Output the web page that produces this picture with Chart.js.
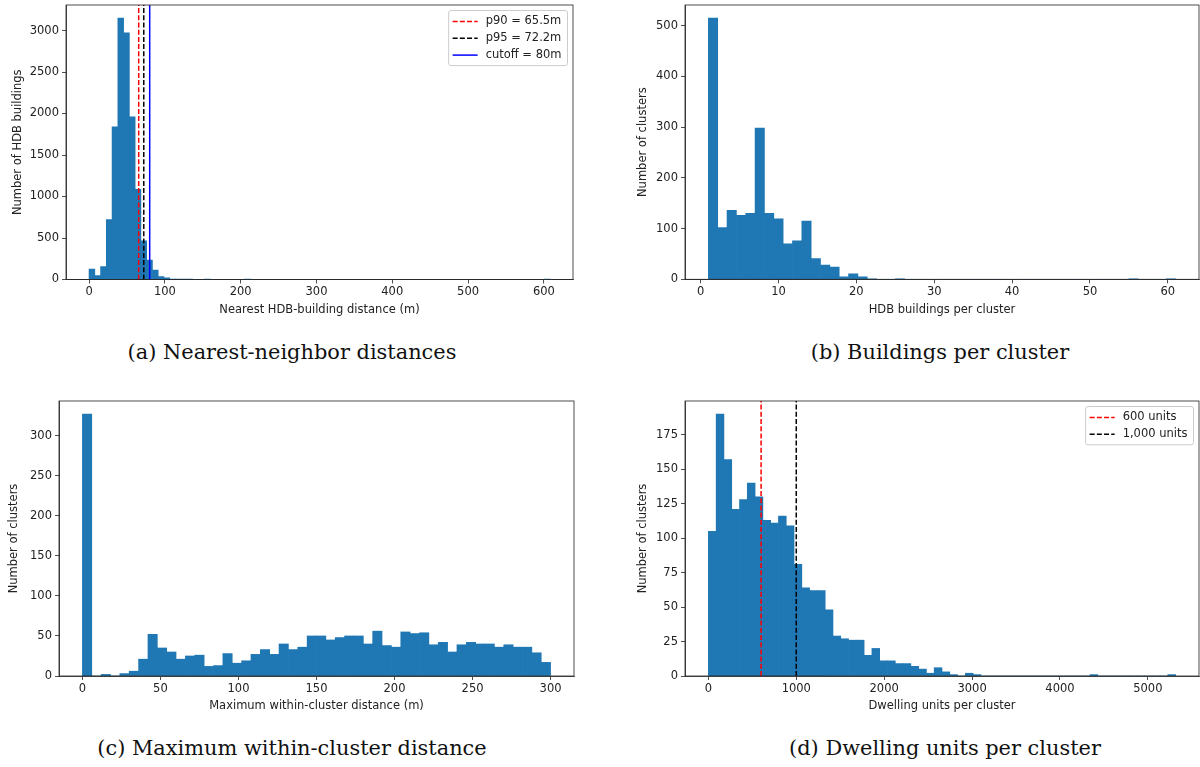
<!DOCTYPE html>
<html>
<head>
<meta charset="utf-8">
<script src="https://cdn.jsdelivr.net/npm/chart.js@4.4.1/dist/chart.umd.min.js"></script>
<style>
  body { margin: 0; background: #fff; width: 1200px; height: 767px; position: relative; overflow: hidden; }
  canvas { position: absolute; }
  .cap { position: absolute; font-family: "DejaVu Serif", serif; font-size: 20.9px; color: #111;
         white-space: nowrap; transform: translate(-50%, -50%); }
</style>
</head>
<body>
<canvas id="nn" width="590" height="320" style="left:0;top:0"></canvas>
<canvas id="bpc" width="580" height="320" style="left:620px;top:0"></canvas>
<canvas id="span" width="590" height="330" style="left:0;top:390px"></canvas>
<canvas id="units" width="580" height="330" style="left:620px;top:390px"></canvas>

<div class="cap" style="left:292px;top:352px">(a) Nearest-neighbor distances</div>
<div class="cap" style="left:940px;top:352px">(b) Buildings per cluster</div>
<div class="cap" style="left:292px;top:748px">(c) Maximum within-cluster distance</div>
<div class="cap" style="left:945px;top:748px">(d) Dwelling units per cluster</div>

<script>
// (a) nearest HDB-building distance, 80 bins of 7.6 m
const nnBinStart = 0;
const nnBinWidth = 7.6;
const nnCounts = [
  125, 48, 157, 721, 1840, 3150, 2972, 1961, 1087, 467,
  234, 113, 36, 20, 6, 3, 1, 1, 0, 0,
  1, 0, 0, 0, 0, 0, 0, 1, 0, 0,
  0, 0, 0, 0, 0, 0, 0, 0, 0, 0,
  0, 0, 0, 0, 0, 0, 0, 0, 0, 0,
  0, 0, 0, 0, 0, 0, 0, 0, 0, 0,
  0, 0, 0, 0, 0, 0, 0, 0, 0, 0,
  0, 0, 0, 0, 0, 0, 0, 0, 0, 1
];
const nnXTicks = [0, 100, 200, 300, 400, 500, 600];
const nnYTicks = [0, 500, 1000, 1500, 2000, 2500, 3000];
const nnMarkValues = [65.5, 72.2, 80];
const nnMarkLabels = ['p90 = 65.5m', 'p95 = 72.2m', 'cutoff = 80m'];

// (b) buildings per cluster, 50 bins of 1.2 starting at 1
const bpcBinStart = 1;
const bpcBinWidth = 1.2;
const bpcCounts = [
  515, 102, 136, 126, 130, 298, 130, 119, 70, 76,
  115, 41, 28, 24, 5, 11, 5, 1, 0, 0,
  1, 0, 0, 0, 0, 0, 0, 0, 0, 0,
  0, 0, 0, 0, 0, 0, 0, 0, 0, 0,
  0, 0, 0, 0, 0, 1, 0, 0, 0, 1
];
const bpcXTicks = [0, 10, 20, 30, 40, 50, 60];
const bpcYTicks = [0, 100, 200, 300, 400, 500];

// (c) maximum within-cluster distance, 50 bins of 6 m
const spanBinStart = 0;
const spanBinWidth = 6;
const spanCounts = [
  327, 0, 2, 0, 3, 6, 21, 52, 35, 30,
  21, 25, 26, 12, 13, 28, 16, 19, 27, 33,
  27, 40, 33, 36, 50, 50, 45, 48, 50, 50,
  40, 56, 38, 36, 55, 53, 54, 39, 42, 30,
  39, 42, 40, 40, 36, 39, 36, 36, 29, 17
];
const spanXTicks = [0, 50, 100, 150, 200, 250, 300];
const spanYTicks = [0, 50, 100, 150, 200, 250, 300];

// (d) dwelling units per cluster, 60 bins of 88.6 units
const unitsBinStart = 0;
const unitsBinWidth = 88.6;
const unitsCounts = [
  105, 190, 157, 121, 128, 140, 130, 113, 111, 116,
  109, 81, 64, 62, 62, 48, 29, 27, 26, 26,
  15, 20, 11, 11, 9, 9, 7, 5, 2, 6,
  3, 1, 0, 2, 1, 0, 0, 0, 0, 0,
  0, 0, 0, 0, 0, 0, 0, 0, 0, 1,
  0, 0, 0, 0, 0, 0, 0, 0, 0, 1
];
const unitsXTicks = [0, 1000, 2000, 3000, 4000, 5000];
const unitsYTicks = [0, 25, 50, 75, 100, 125, 150, 175];
const unitsMarkValues = [600, 1000];
const unitsMarkLabels = ['600 units', '1,000 units'];

const INK = '#222';
const BAR = '#1f77b4';
const FONT = { family: 'DejaVu Sans', size: 11.5 };

Chart.defaults.font.family = 'DejaVu Sans';

// bin centres for a linear x axis
function histPoints(counts, start, width) {
  return counts.map((c, i) => ({ x: start + width * (i + 0.5), y: c }));
}

// full box around the plot area, drawn over the bars
const framePlugin = {
  id: 'frame',
  afterDatasetsDraw(chart) {
    const { ctx, chartArea: a } = chart;
    ctx.save();
    ctx.strokeStyle = INK;
    ctx.lineWidth = 0.8;
    ctx.strokeRect(a.left, a.top, a.right - a.left, a.bottom - a.top);
    ctx.restore();
  }
};

// legend box in the upper right corner, one row per reference line
const boxLegend = {
  id: 'boxLegend',
  afterDraw(chart) {
    const items = chart.data.datasets.filter(d => d.type === 'line');
    if (!items.length) return;
    const { ctx, chartArea: a } = chart;
    ctx.save();
    ctx.font = '11.5px "DejaVu Sans"';
    const textW = Math.max(...items.map(d => ctx.measureText(d.label).width));
    const rowH = 16.8;
    const w = 4 + 25 + 8 + textW + 6;
    const h = 11 + rowH * (items.length - 1) + 10.5;
    const x = a.right - 5.5 - w;
    const y = a.top + 5.5;
    ctx.beginPath();
    if (ctx.roundRect) ctx.roundRect(x, y, w, h, 2.5); else ctx.rect(x, y, w, h);
    ctx.fillStyle = 'rgba(255,255,255,0.8)';
    ctx.fill();
    ctx.strokeStyle = '#cccccc';
    ctx.lineWidth = 1;
    ctx.stroke();
    items.forEach((d, i) => {
      const cy = y + 11 + i * rowH;
      ctx.beginPath();
      ctx.strokeStyle = d.borderColor;
      ctx.lineWidth = 1.5;
      ctx.setLineDash(d.borderDash || []);
      ctx.moveTo(x + 4, cy);
      ctx.lineTo(x + 29, cy);
      ctx.stroke();
      ctx.setLineDash([]);
      ctx.fillStyle = INK;
      ctx.textBaseline = 'middle';
      ctx.fillText(d.label, x + 37, cy);
    });
    ctx.restore();
  }
};

function drawHist(id, o) {
  const datasets = (o.marks || []).map(m => ({
    type: 'line',
    label: m.label,
    data: [{ x: m.x, y: 0 }, { x: m.x, y: o.yMax }],
    borderColor: m.color,
    borderWidth: 1.5,
    borderDash: m.dash,
    pointRadius: 0,
    order: 1
  }));
  datasets.push({
    type: 'bar',
    label: 'count',
    data: histPoints(o.counts, o.binStart, o.binWidth),
    backgroundColor: BAR,
    borderWidth: 0,
    barPercentage: 1,
    categoryPercentage: 1,
    grouped: false,
    order: 2
  });

  new Chart(document.getElementById(id).getContext('2d'), {
    type: 'bar',
    data: { datasets },
    options: {
      responsive: false,
      animation: false,
      events: [],
      layout: { padding: { left: 0, top: o.padTop, right: o.padRight, bottom: 0 } },
      plugins: { legend: { display: false }, tooltip: { enabled: false } },
      scales: {
        x: {
          type: 'linear',
          offset: false,
          min: o.xMin,
          max: o.xMax,
          afterBuildTicks: s => { s.ticks = o.xTicks.map(v => ({ value: v })); },
          afterFit: s => { s.height = o.xHeight; s.paddingLeft = 0; s.paddingRight = 0; },
          grid: { offset: false, drawOnChartArea: false, color: INK, lineWidth: 0.8, tickLength: 4 },
          border: { color: INK, width: 0.8 },
          ticks: { color: INK, font: FONT, padding: 2, maxRotation: 0, autoSkip: false, callback: v => String(v) },
          title: { display: true, text: o.xTitle, color: INK, font: FONT, padding: { top: 0, bottom: o.xTitlePad } }
        },
        y: {
          type: 'linear',
          min: 0,
          max: o.yMax,
          afterBuildTicks: s => { s.ticks = o.yTicks.map(v => ({ value: v })); },
          afterFit: s => { s.width = o.yWidth; s.paddingTop = 0; s.paddingBottom = 0; },
          grid: { drawOnChartArea: false, color: INK, lineWidth: 0.8, tickLength: 4 },
          border: { color: INK, width: 0.8 },
          ticks: { color: INK, font: FONT, padding: 3, autoSkip: false, callback: v => String(v) },
          title: { display: true, text: o.yTitle, color: INK, font: FONT, padding: { top: o.yTitlePad, bottom: 0 } }
        }
      }
    },
    plugins: [framePlugin, boxLegend]
  });
}

document.addEventListener('DOMContentLoaded', () => {
  drawHist('nn', {
    counts: nnCounts, binStart: nnBinStart, binWidth: nnBinWidth,
    xMin: -30.4, xMax: 638.4, xTicks: nnXTicks,
    yMax: 3307.5, yTicks: nnYTicks,
    xTitle: 'Nearest HDB-building distance (m)', yTitle: 'Number of HDB buildings',
    padTop: 5, padRight: 17, yWidth: 66, xHeight: 40.5, xTitlePad: 3.1, yTitlePad: 11.4,
    marks: [
      { x: nnMarkValues[0], label: nnMarkLabels[0], color: '#ff0000', dash: [5, 2.2] },
      { x: nnMarkValues[1], label: nnMarkLabels[1], color: '#000000', dash: [5, 2.2] },
      { x: nnMarkValues[2], label: nnMarkLabels[2], color: '#0000ff', dash: [] }
    ]
  });

  drawHist('bpc', {
    counts: bpcCounts, binStart: bpcBinStart, binWidth: bpcBinWidth,
    xMin: -2, xMax: 64, xTicks: bpcXTicks,
    yMax: 540.75, yTicks: bpcYTicks,
    xTitle: 'HDB buildings per cluster', yTitle: 'Number of clusters',
    padTop: 5, padRight: 1, yWidth: 65, xHeight: 40.7, xTitlePad: 3.1, yTitlePad: 16.1
  });

  drawHist('span', {
    counts: spanCounts, binStart: spanBinStart, binWidth: spanBinWidth,
    xMin: -15, xMax: 315, xTicks: spanXTicks,
    yMax: 343.35, yTicks: spanYTicks,
    xTitle: 'Maximum within-cluster distance (m)', yTitle: 'Number of clusters',
    padTop: 11, padRight: 16, yWidth: 59, xHeight: 44, xTitlePad: 7.1, yTitlePad: 7.1
  });

  drawHist('units', {
    counts: unitsCounts, binStart: unitsBinStart, binWidth: unitsBinWidth,
    xMin: -265.8, xMax: 5581.8, xTicks: unitsXTicks,
    yMax: 199.5, yTicks: unitsYTicks,
    xTitle: 'Dwelling units per cluster', yTitle: 'Number of clusters',
    padTop: 11, padRight: 1, yWidth: 65, xHeight: 44, xTitlePad: 7.1, yTitlePad: 16.1,
    marks: [
      { x: unitsMarkValues[0], label: unitsMarkLabels[0], color: '#ff0000', dash: [5, 2.2] },
      { x: unitsMarkValues[1], label: unitsMarkLabels[1], color: '#000000', dash: [5, 2.2] }
    ]
  });
});
</script>
</body>
</html>
